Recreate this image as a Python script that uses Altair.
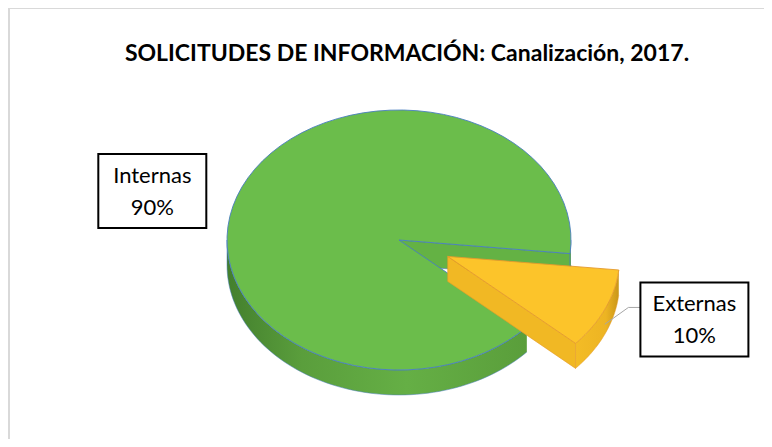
import altair as alt
import pandas as pd

# ---- data ----
categories = ["Internas", "Externas"]
values = [90, 10]
title_text = "SOLICITUDES DE INFORMACIÓN: Canalización, 2017."

df = pd.DataFrame({"categoria": categories, "valor": values, "orden": list(range(len(categories)))})

# ---- geometry / style constants ----
W, H = 756, 431
CX, CY = 399, 240          # pie centre (page px)
RX, RY = 172, 130          # ellipse radii of the tilted pie
DEPTH = 25                 # thickness of the pie
START = "(132*PI/180)"     # first slice start, clockwise from 12 o'clock
EXPLODED = "Externas"
EXPLODE = 0.31
N = 72
FX, FY, LDY = 1.57, 1.06, 7
BW, BH = 108, 74
LEADER = ["Externas"]

TOP = {"Internas": "#6BBD4B", "Externas": "#FCC42A"}
FACE = {"Internas": "#64B244", "Externas": "#F1B824"}
EDGE = {"Internas": "#4A7EC0", "Externas": "#E49A2C"}
SIDE = {
    "Internas": alt.LinearGradient(gradient="linear", x1=0, x2=1, y1=0, y2=0, stops=[
        alt.GradientStop(color="#437F2D", offset=0), alt.GradientStop(color="#5A9E3C", offset=0.25),
        alt.GradientStop(color="#65AF45", offset=0.6), alt.GradientStop(color="#5A9E3B", offset=1)]),
    "Externas": alt.LinearGradient(gradient="linear", x1=0, x2=1, y1=0, y2=0, stops=[
        alt.GradientStop(color="#F3BC26", offset=0), alt.GradientStop(color="#EDB423", offset=0.7),
        alt.GradientStop(color="#C9961A", offset=1)]),
}

XS = alt.Scale(domain=[8, 8 + W], nice=False, zero=False)
YS = alt.Scale(domain=[8, 8 + H], nice=False, zero=False, reverse=True)
X = alt.X("px:Q", scale=XS, axis=None)
Y = alt.Y("py:Q", scale=YS, axis=None)

base = (
    alt.Chart(df)
    .transform_joinaggregate(total="sum(valor)")
    .transform_window(cum="sum(valor)", sort=[alt.SortField("orden")], frame=[None, 0])
    .transform_calculate(
        a0=f"{START} + 2*PI*(datum.cum - datum.valor)/datum.total",
        a1=f"{START} + 2*PI*datum.cum/datum.total",
    )
    .transform_calculate(
        mid="(datum.a0 + datum.a1)/2",
        ex=f"datum.categoria == '{EXPLODED}' ? {EXPLODE} : 0",
    )
    .transform_calculate(
        ax=f"{CX} + datum.ex*{RX}*sin(datum.mid)",
        ay=f"{CY} - datum.ex*{RY}*cos(datum.mid)",
    )
)

layers = []
for cat in categories:
    b = base.transform_filter(alt.datum.categoria == cat)

    # radial cut faces that face the viewer
    faces = (
        b.transform_calculate(f="[0, 1]")
        .transform_flatten(["f"])
        .transform_calculate(
            fa="datum.f == 0 ? datum.a0 : datum.a1",
            vis="datum.f == 0 ? (sin(datum.a0) < 0 ? 1 : 0) : (sin(datum.a1) > 0 ? 1 : 0)",
        )
        .transform_filter("datum.vis == 1")
        .transform_calculate(k="sequence(0, 5)")
        .transform_flatten(["k"])
        .transform_calculate(
            rimf="datum.k == 1 || datum.k == 2 ? 1 : 0",
            low="datum.k == 2 || datum.k == 3 ? 1 : 0",
        )
        .transform_calculate(
            px=f"datum.ax + datum.rimf*{RX}*sin(datum.fa)",
            py=f"datum.ay - datum.rimf*{RY}*cos(datum.fa) + datum.low*{DEPTH}",
        )
        .mark_line(fill=FACE[cat], stroke=EDGE[cat], strokeWidth=0.6, strokeJoin="round")
        .encode(x=X, y=Y, order="k:Q", detail="f:N")
    )

    # outer (front) side wall
    side = (
        b.transform_calculate(w="[0, 1]")
        .transform_flatten(["w"])
        .transform_calculate(
            s="max(datum.a0, PI/2 + 2*PI*datum.w)",
            e="min(datum.a1, 3*PI/2 + 2*PI*datum.w)",
        )
        .transform_filter("datum.e > datum.s")
        .transform_calculate(k=f"sequence(0, {2 * N + 2})")
        .transform_flatten(["k"])
        .transform_calculate(
            low=f"datum.k > {N} ? 1 : 0",
            t=f"datum.k > {N} ? ({2 * N + 1} - datum.k)/{N} : datum.k/{N}",
        )
        .transform_calculate(phi="datum.s + (datum.e - datum.s)*datum.t")
        .transform_calculate(
            px=f"datum.ax + {RX}*sin(datum.phi)",
            py=f"datum.ay - {RY}*cos(datum.phi) + datum.low*{DEPTH}",
        )
        .mark_line(fill=SIDE[cat], stroke=EDGE[cat], strokeWidth=0.5, strokeJoin="round")
        .encode(x=X, y=Y, order="k:Q", detail="w:N")
    )

    # top face
    top = (
        b.transform_calculate(k=f"sequence(0, {N + 3})")
        .transform_flatten(["k"])
        .transform_calculate(
            t=f"clamp((datum.k - 1)/{N}, 0, 1)",
            rim=f"datum.k > 0 && datum.k < {N + 2} ? 1 : 0",
        )
        .transform_calculate(phi="datum.a0 + (datum.a1 - datum.a0)*datum.t")
        .transform_calculate(
            px=f"datum.ax + datum.rim*{RX}*sin(datum.phi)",
            py=f"datum.ay - datum.rim*{RY}*cos(datum.phi)",
        )
        .mark_line(fill=TOP[cat], stroke=EDGE[cat], strokeWidth=0.9, strokeJoin="round")
        .encode(x=X, y=Y, order="k:Q")
    )
    layers += [faces, side, top]

# label positions derived from the slices
lab = base.transform_calculate(
    lx=f"datum.ax + {FX}*{RX}*sin(datum.mid)",
    ly=f"datum.ay - {FY}*{RY}*cos(datum.mid) + {LDY}",
    txt="datum.categoria + '\\n' + format(datum.valor/datum.total, '.0%')",
).transform_calculate(
    bx1=f"datum.lx - {BW / 2}", bx2=f"datum.lx + {BW / 2}",
    by1=f"datum.ly - {BH / 2}", by2=f"datum.ly + {BH / 2}",
)

leader = (
    lab.transform_filter(alt.FieldOneOfPredicate(field="categoria", oneOf=LEADER))
    .transform_calculate(
        sx=f"datum.ax + {RX}*sin(datum.mid)",
        sy=f"datum.ay - {RY}*cos(datum.mid) + {DEPTH}*0.6",
        ex2=f"datum.bx1",
        ey2="datum.ly - 12",
    )
    .transform_calculate(elx="datum.ex2 - 12")
)
leader1 = leader.mark_rule(color="#A6A6A6", strokeWidth=1).encode(
    x=alt.X("sx:Q", scale=XS, axis=None), y=alt.Y("sy:Q", scale=YS, axis=None),
    x2="elx:Q", y2="ey2:Q")
leader2 = leader.mark_rule(color="#A6A6A6", strokeWidth=1).encode(
    x=alt.X("elx:Q", scale=XS, axis=None), y=alt.Y("ey2:Q", scale=YS, axis=None),
    x2="ex2:Q", y2="ey2:Q")

boxes = lab.mark_rect(fill="white", stroke="#000000", strokeWidth=2).encode(
    x=alt.X("bx1:Q", scale=XS, axis=None), x2="bx2:Q",
    y=alt.Y("by1:Q", scale=YS, axis=None), y2="by2:Q")

texts = lab.mark_text(font="Lato", fontSize=22, lineBreak="\n", lineHeight=32, dy=-15,
                      align="center", baseline="middle", color="#000000").encode(
    x=alt.X("lx:Q", scale=XS, axis=None), y=alt.Y("ly:Q", scale=YS, axis=None), text="txt:N")

title = alt.Chart(pd.DataFrame({"t": [title_text]})).mark_text(
    font="Lato", fontSize=23, fontWeight="bold", align="center", baseline="middle", color="#000000"
).encode(x=alt.value(399), y=alt.value(46), text="t:N")

border_top = alt.Chart(pd.DataFrame({"t": [0]})).mark_rule(color="#D9D9D9", strokeWidth=2).encode(
    x=alt.value(0), x2=alt.value(W), y=alt.value(0))
border_left = alt.Chart(pd.DataFrame({"t": [0]})).mark_rule(color="#D9D9D9", strokeWidth=2).encode(
    x=alt.value(1), y=alt.value(0), y2=alt.value(H))

chart = alt.layer(
    border_top, border_left, title, *layers, leader1, leader2, boxes, texts
).properties(
    width=W, height=H, padding=0, autosize=alt.AutoSizeParams(type="none"), background="white"
).configure_view(strokeWidth=0)

chart.save("out.html", embed_options={"renderer": "svg", "actions": False})
